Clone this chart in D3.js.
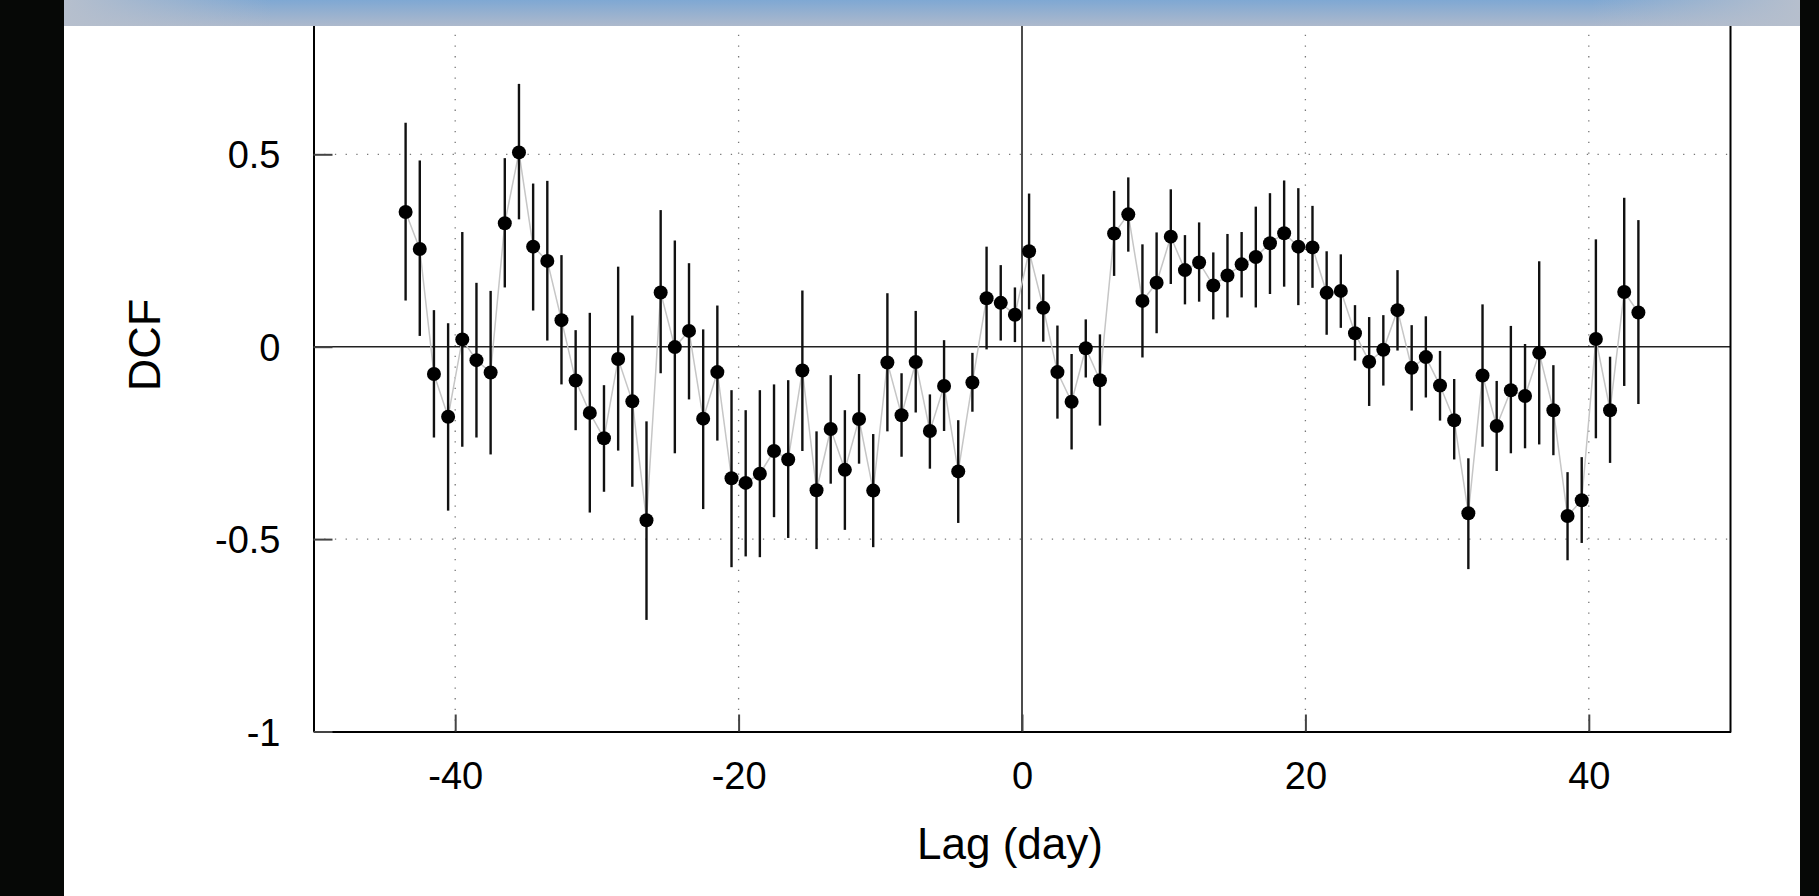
<!DOCTYPE html>
<html>
<head>
<meta charset="utf-8">
<script src="https://cdn.jsdelivr.net/npm/d3@7"></script>
<style>
  html, body { margin: 0; padding: 0; background: #060806; }
  svg { display: block; }
  text { font-family: "Liberation Sans", Arial, sans-serif; fill: #000; }
</style>
</head>
<body>
<svg id="chart" width="1819" height="896"></svg>
<script>
// lag bins (day)
var lags = [-43.5, -42.5, -41.5, -40.5, -39.5, -38.5, -37.5, -36.5, -35.5, -34.5,
            -33.5, -32.5, -31.5, -30.5, -29.5, -28.5, -27.5, -26.5, -25.5, -24.5,
            -23.5, -22.5, -21.5, -20.5, -19.5, -18.5, -17.5, -16.5, -15.5, -14.5,
            -13.5, -12.5, -11.5, -10.5, -9.5, -8.5, -7.5, -6.5, -5.5, -4.5,
            -3.5, -2.5, -1.5, -0.5, 0.5, 1.5, 2.5, 3.5, 4.5, 5.5,
            6.5, 7.5, 8.5, 9.5, 10.5, 11.5, 12.5, 13.5, 14.5, 15.5,
            16.5, 17.5, 18.5, 19.5, 20.5, 21.5, 22.5, 23.5, 24.5, 25.5,
            26.5, 27.5, 28.5, 29.5, 30.5, 31.5, 32.5, 33.5, 34.5, 35.5,
            36.5, 37.5, 38.5, 39.5, 40.5, 41.5, 42.5, 43.5];

// DCF value per lag
var dcf = [0.350, 0.254, -0.071, -0.182, 0.019, -0.035, -0.067, 0.321, 0.505, 0.260,
           0.223, 0.069, -0.088, -0.172, -0.238, -0.032, -0.142, -0.451, 0.141, -0.001,
           0.041, -0.187, -0.066, -0.342, -0.354, -0.330, -0.271, -0.293, -0.062, -0.373,
           -0.214, -0.320, -0.188, -0.374, -0.041, -0.178, -0.040, -0.219, -0.102, -0.324,
           -0.093, 0.126, 0.114, 0.083, 0.248, 0.101, -0.066, -0.143, -0.004, -0.087,
           0.294, 0.344, 0.119, 0.166, 0.286, 0.199, 0.219, 0.159, 0.185, 0.214,
           0.233, 0.269, 0.295, 0.260, 0.258, 0.140, 0.145, 0.035, -0.039, -0.008,
           0.095, -0.055, -0.027, -0.101, -0.191, -0.433, -0.075, -0.206, -0.113, -0.128,
           -0.016, -0.165, -0.440, -0.399, 0.020, -0.165, 0.142, 0.089];

// lower end of error bar
var errLow = [0.120, 0.028, -0.236, -0.426, -0.260, -0.236, -0.280, 0.154, 0.331, 0.094,
              0.016, -0.098, -0.217, -0.431, -0.377, -0.270, -0.364, -0.710, -0.069, -0.277,
              -0.137, -0.422, -0.244, -0.573, -0.545, -0.547, -0.443, -0.497, -0.271, -0.526,
              -0.356, -0.476, -0.304, -0.521, -0.220, -0.286, -0.171, -0.317, -0.219, -0.458,
              -0.169, -0.007, 0.016, 0.012, 0.097, 0.013, -0.187, -0.267, -0.080, -0.205,
              0.184, 0.247, -0.028, 0.035, 0.163, 0.110, 0.117, 0.071, 0.076, 0.128,
              0.102, 0.137, 0.156, 0.108, 0.153, 0.031, 0.049, -0.036, -0.154, -0.101,
              -0.010, -0.166, -0.132, -0.192, -0.293, -0.578, -0.260, -0.323, -0.277, -0.264,
              -0.254, -0.282, -0.555, -0.510, -0.238, -0.302, -0.102, -0.149];

// upper end of error bar
var errHigh = [0.582, 0.484, 0.095, 0.061, 0.298, 0.166, 0.145, 0.490, 0.683, 0.424,
               0.431, 0.238, 0.043, 0.088, -0.100, 0.208, 0.081, -0.194, 0.355, 0.276,
               0.217, 0.045, 0.107, -0.113, -0.165, -0.113, -0.098, -0.087, 0.146, -0.220,
               -0.074, -0.165, -0.071, -0.227, 0.139, -0.069, 0.093, -0.124, 0.017, -0.191,
               -0.016, 0.260, 0.212, 0.154, 0.398, 0.188, 0.055, -0.019, 0.071, 0.032,
               0.405, 0.440, 0.266, 0.297, 0.409, 0.290, 0.323, 0.245, 0.293, 0.298,
               0.364, 0.399, 0.432, 0.412, 0.366, 0.248, 0.240, 0.108, 0.077, 0.082,
               0.199, 0.056, 0.079, -0.011, -0.084, -0.290, 0.110, -0.089, 0.054, 0.007,
               0.222, -0.048, -0.326, -0.287, 0.279, -0.026, 0.387, 0.329];

var xTicks = [-40, -20, 0, 20, 40];
var yTicks = [-1, -0.5, 0, 0.5];
var xGrid = [-40, -20, 20, 40];
var yGrid = [-0.5, 0.5];

var W = 1819, H = 896;
var svg = d3.select("#chart");

var x = d3.scaleLinear().domain([-50, 50]).range([313.5, 1730.5]);
var y = d3.scaleLinear().domain([-1, 1]).range([731.5, -38.1]);

var points = lags.map(function(l, i){
    return {lag: l, v: dcf[i], lo: errLow[i], hi: errHigh[i]};
});

// page background: dark side strips, white page
svg.append("rect").attr("width", W).attr("height", H).attr("fill", "#060806");
svg.append("rect").attr("x", 64).attr("y", 0).attr("width", 1800 - 64).attr("height", H).attr("fill", "#fff");

var plot = svg.append("g");

// dotted grid
plot.selectAll("line.vgrid").data(xGrid).enter().append("line")
    .attr("class", "vgrid")
    .attr("x1", function(d){ return x(d); }).attr("x2", function(d){ return x(d); })
    .attr("y1", y(-1)).attr("y2", y(1))
    .attr("stroke", "#777").attr("stroke-width", 1.3)
    .attr("stroke-dasharray", "1.3,9.4");
plot.selectAll("line.hgrid").data(yGrid).enter().append("line")
    .attr("class", "hgrid")
    .attr("x1", x(-50)).attr("x2", x(50))
    .attr("y1", function(d){ return y(d); }).attr("y2", function(d){ return y(d); })
    .attr("stroke", "#777").attr("stroke-width", 1.3)
    .attr("stroke-dasharray", "1.3,9.4");

// zero lines
plot.append("line")
    .attr("x1", x(-50)).attr("x2", x(50)).attr("y1", y(0)).attr("y2", y(0))
    .attr("stroke", "#222").attr("stroke-width", 1.5);
plot.append("line")
    .attr("x1", x(0)).attr("x2", x(0)).attr("y1", y(-1)).attr("y2", y(1))
    .attr("stroke", "#111").attr("stroke-width", 1.5);

// axes
var xAxis = d3.axisBottom(x).tickValues(xTicks)
    .tickSizeInner(-17).tickSizeOuter(0).tickPadding(31)
    .tickFormat(function(d){ return String(d); });
var yAxis = d3.axisLeft(y).tickValues(yTicks)
    .tickSizeInner(-19).tickSizeOuter(0).tickPadding(33)
    .tickFormat(function(d){ return String(d); });

var gx = plot.append("g").attr("transform", "translate(0," + y(-1) + ")").call(xAxis);
var gy = plot.append("g").attr("transform", "translate(" + x(-50) + ",0)").call(yAxis);
[gx, gy].forEach(function(g){
    g.select(".domain").attr("stroke", "#000").attr("stroke-width", 2);
    g.selectAll(".tick line").attr("stroke", "#444").attr("stroke-width", 2);
    g.selectAll(".tick text")
        .style("font-family", "'Liberation Sans', Arial, sans-serif")
        .style("font-size", "38px").attr("fill", "#000");
});
gy.selectAll(".tick text").attr("dy", "0.36em");

// right frame line
plot.append("line")
    .attr("x1", x(50)).attr("x2", x(50)).attr("y1", y(-1) + 1).attr("y2", y(1))
    .attr("stroke", "#000").attr("stroke-width", 2);

// connecting line
var line = d3.line().x(function(d){ return x(d.lag); }).y(function(d){ return y(d.v); });
plot.append("path").datum(points)
    .attr("d", line)
    .attr("fill", "none")
    .attr("stroke", "#c6c6c6")
    .attr("stroke-width", 1.5);

// error bars
plot.selectAll("line.err").data(points).enter().append("line")
    .attr("class", "err")
    .attr("x1", function(d){ return x(d.lag); }).attr("x2", function(d){ return x(d.lag); })
    .attr("y1", function(d){ return y(d.lo); }).attr("y2", function(d){ return y(d.hi); })
    .attr("stroke", "#111").attr("stroke-width", 2.4);

// points
plot.selectAll("circle.pt").data(points).enter().append("circle")
    .attr("class", "pt")
    .attr("cx", function(d){ return x(d.lag); })
    .attr("cy", function(d){ return y(d.v); })
    .attr("r", 7)
    .attr("fill", "#000");

// axis titles
svg.append("text")
    .attr("x", 1010).attr("y", 859)
    .attr("text-anchor", "middle")
    .style("font-size", "44px")
    .text("Lag (day)");
svg.append("text")
    .attr("transform", "translate(160,345) rotate(-90)")
    .attr("text-anchor", "middle")
    .style("font-size", "45px")
    .text("DCF");

// blue header band across the top
var defs = svg.append("defs");
var vg = defs.append("linearGradient").attr("id", "bandV").attr("x1", 0).attr("y1", 0).attr("x2", 0).attr("y2", 1);
vg.append("stop").attr("offset", "0%").attr("stop-color", "#7fa8d3");
vg.append("stop").attr("offset", "100%").attr("stop-color", "#adb9cc");
var hg = defs.append("linearGradient").attr("id", "bandH").attr("x1", 0).attr("y1", 0).attr("x2", 1).attr("y2", 0);
hg.append("stop").attr("offset", "0%").attr("stop-color", "#b6bfcd").attr("stop-opacity", 1);
hg.append("stop").attr("offset", "12%").attr("stop-color", "#b6bfcd").attr("stop-opacity", 0);
hg.append("stop").attr("offset", "88%").attr("stop-color", "#b6bfcd").attr("stop-opacity", 0);
hg.append("stop").attr("offset", "100%").attr("stop-color", "#b6bfcd").attr("stop-opacity", 1);
svg.append("rect").attr("x", 64).attr("y", 0).attr("width", 1800 - 64).attr("height", 26).attr("fill", "url(#bandV)");
svg.append("rect").attr("x", 64).attr("y", 0).attr("width", 1800 - 64).attr("height", 26).attr("fill", "url(#bandH)");
</script>
</body>
</html>
